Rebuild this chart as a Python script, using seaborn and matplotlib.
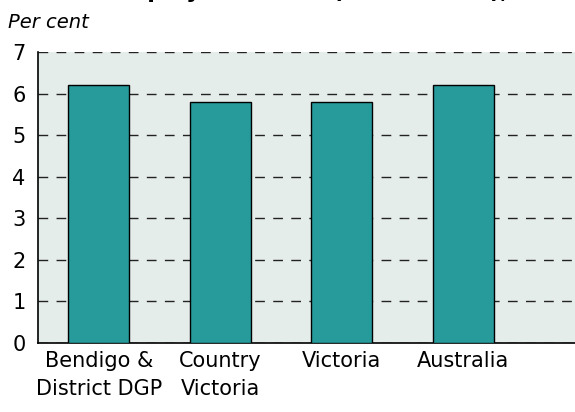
import matplotlib
matplotlib.use("Agg")
import matplotlib.pyplot as plt
import seaborn as sns
import pandas as pd

# Unemployment rate by region
regions = ['Bendigo &\nDistrict DGP', 'Country\nVictoria', 'Victoria', 'Australia']
rates = [6.2, 5.8, 5.8, 6.2]
yticks = [0, 1, 2, 3, 4, 5, 6, 7]

df = pd.DataFrame({'region': regions, 'rate': rates})

sns.set_style("white")
plt.rcParams['font.family'] = ['DejaVu Sans']
plt.rcParams['text.color'] = 'black'
plt.rcParams['xtick.color'] = 'black'
plt.rcParams['ytick.color'] = 'black'

fig = plt.figure(figsize=(5.75, 4.12), dpi=100)
ax = fig.add_axes([38 / 575, (412 - 343) / 412, (575 - 38) / 575, (343 - 52) / 412])
ax.set_facecolor('#e5edeb')

sns.barplot(data=df, x='region', y='rate', color='#279b9b', width=0.5,
            saturation=1, edgecolor='black', linewidth=1, ax=ax, zorder=3)

ax.set_ylim(0, 7)
ax.set_xlim(-0.5, 3.92)
ax.set_yticks(yticks)
ax.yaxis.grid(True, linestyle=(0, (7, 6)), color='#222222', linewidth=1, zorder=1)
ax.set_axisbelow(True)
ax.tick_params(axis='both', length=0, labelsize=15, pad=6, labelcolor='black')
ax.tick_params(axis='y', pad=9)
for lab in ax.get_xticklabels():
    lab.set_linespacing(1.45)
ax.set_xlabel('')
ax.set_ylabel('')

for s in ['top', 'right']:
    ax.spines[s].set_visible(False)
ax.spines['left'].set_color('black')
ax.spines['bottom'].set_color('black')
ax.spines['left'].set_linewidth(1.2)
ax.spines['bottom'].set_linewidth(1.2)

fig.text(8 / 575, 1 - 22 / 412, 'Per cent', fontsize=14, style='italic', va='center')
# title clipped at the top of the image
fig.text(75 / 575, 1 + 2 / 412, 'Unemployment rate (March 2006),', fontsize=16,
         fontweight='bold', va='baseline')

fig.savefig('out.png', dpi=100)
